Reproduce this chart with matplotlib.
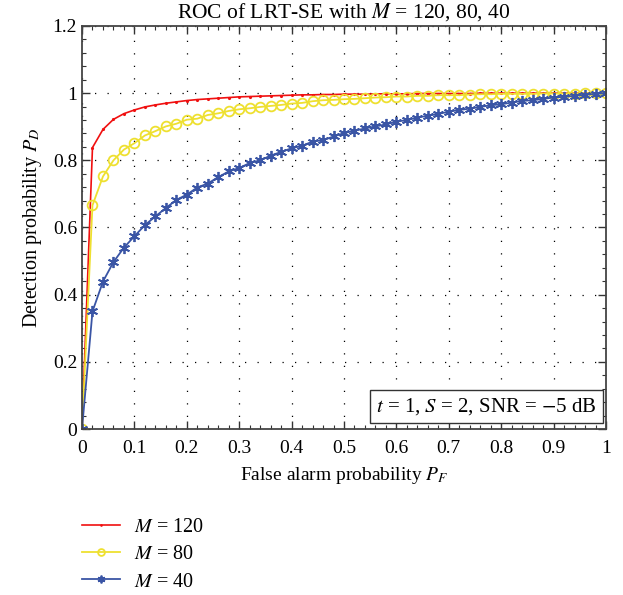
import matplotlib
matplotlib.use('Agg')
import matplotlib.pyplot as plt
import numpy as np

plt.rcParams['font.family'] = ['Liberation Serif', 'DejaVu Serif']
plt.rcParams['mathtext.fontset'] = 'stix'
plt.rcParams['font.size'] = 14

# false alarm probability, step 0.02
pf = [round(0.02 * i, 2) for i in range(51)]

pd_m120 = [0, 0.838, 0.892, 0.922, 0.939, 0.950, 0.959, 0.965, 0.970, 0.974,
           0.978, 0.981, 0.983, 0.985, 0.987, 0.989, 0.990, 0.991, 0.992, 0.993,
           0.994, 0.995, 0.995, 0.996, 0.996, 0.997, 0.997, 0.997, 0.998, 0.998,
           0.998, 0.998, 0.999, 0.999, 0.999, 0.999, 0.999, 0.999, 1.0, 1.0,
           1.0, 1.0, 1.0, 1.0, 1.0, 1.0, 1.0, 1.0, 1.0, 1.0, 1.0]
pd_m80 = [0, 0.666, 0.752, 0.800, 0.832, 0.851, 0.874, 0.887, 0.901, 0.909,
          0.921, 0.924, 0.935, 0.940, 0.947, 0.952, 0.955, 0.959, 0.962, 0.965,
          0.969, 0.971, 0.976, 0.979, 0.980, 0.982, 0.983, 0.985, 0.987, 0.988,
          0.990, 0.990, 0.992, 0.992, 0.994, 0.994, 0.994, 0.996, 0.997, 0.997,
          0.998, 0.998, 0.998, 0.998, 0.999, 0.999, 0.999, 0.999, 1.0, 1.0, 1.0]
pd_m40 = [0, 0.350, 0.439, 0.497, 0.540, 0.574, 0.607, 0.633, 0.658, 0.682,
          0.698, 0.719, 0.731, 0.750, 0.767, 0.777, 0.792, 0.800, 0.814, 0.825,
          0.836, 0.843, 0.856, 0.860, 0.871, 0.881, 0.888, 0.895, 0.901, 0.907,
          0.915, 0.920, 0.927, 0.933, 0.938, 0.945, 0.950, 0.954, 0.959, 0.964,
          0.967, 0.972, 0.977, 0.979, 0.983, 0.987, 0.989, 0.992, 0.995, 0.998, 1.0]

labels = ['$M$ = 120', '$M$ = 80', '$M$ = 40']

fig = plt.figure(figsize=(6.23, 5.95), dpi=100)
ax = fig.add_axes([82 / 623, 1 - 429 / 595, 524 / 623, 403 / 595])

asterisk = (6, 2, 0)
l1, = ax.plot(pf, pd_m120, color='#f01010', lw=1.2, marker='.', ms=2.5, label=labels[0])
l2, = ax.plot(pf, pd_m80, color='#eee030', lw=1.3, marker='o', ms=7, mfc='none',
              mew=1.3, label=labels[1])
l3, = ax.plot(pf, pd_m40, color='#3a55a5', lw=1.3, marker=asterisk, ms=8, mew=1.3,
              label=labels[2])

ax.set_xlim(0, 1)
ax.set_ylim(0, 1.2)
ax.set_xticks(np.arange(0, 1.01, 0.1))
ax.set_xticklabels(['0', '0.1', '0.2', '0.3', '0.4', '0.5', '0.6', '0.7', '0.8', '0.9', '1'])
ax.set_yticks(np.arange(0, 1.21, 0.2))
ax.set_yticklabels(['0', '0.2', '0.4', '0.6', '0.8', '1', '1.2'])
ax.set_xticks(np.arange(0, 1.001, 0.02), minor=True)
ax.set_yticks(np.arange(0, 1.201, 0.04), minor=True)
ax.tick_params(which='both', direction='in', top=True, right=True, color='#333333')
ax.tick_params(which='major', length=6, width=1)
ax.tick_params(which='minor', length=3, width=0.8)
ax.tick_params(axis='x', pad=8)
for s in ax.spines.values():
    s.set_color('#444444')
    s.set_linewidth(1.3)
ax.grid(True, which='major', color='black', linestyle=(0, (1, 9)), linewidth=0.9)

ax.set_title('ROC of LRT-SE with $M$ = 120, 80, 40', fontsize=15.5, pad=6)
ax.set_xlabel('False alarm probability $P_F$', fontsize=14, labelpad=6)
ax.set_ylabel('Detection probability $P_D$', fontsize=14.5, labelpad=6)

ax.text(0.982, 0.03, '$t$ = 1, $S$ = 2, SNR = $-$5 dB', transform=ax.transAxes,
        ha='right', va='bottom', fontsize=15,
        bbox=dict(boxstyle='square,pad=0.3', fc='white', ec='#333333', lw=1.0))

fig.legend(handles=[l1, l2, l3], loc='upper left', bbox_to_anchor=(64 / 623, 1 - 500 / 595),
           frameon=False, fontsize=14.5, handlelength=1.9, labelspacing=0.4,
           handletextpad=0.7, markerscale=0.7)

fig.savefig('out.png', dpi=100)
